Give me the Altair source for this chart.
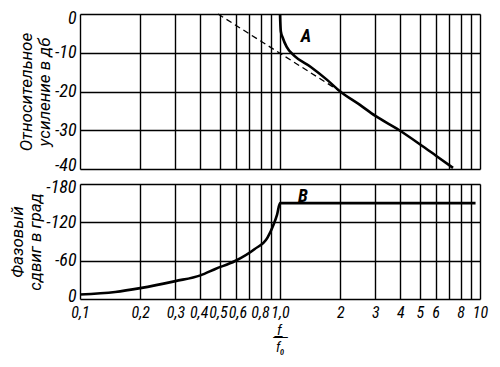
import altair as alt
import pandas as pd

# ---- data ----
gain_f = [1.0, 1.003, 1.01, 1.03, 1.08, 1.18, 1.42, 1.72, 2.0, 2.5, 3.0, 3.95, 5.0, 6.0, 7.33]
gain_db = [0, -2.0, -4.5, -6.0, -8.5, -10.8, -13.6, -17.0, -20.0, -23.4, -26.3, -30.0, -33.6, -36.5, -39.7]

asym_f = [0.49, 2.0]
asym_db = [0, -20]

phase_f = [0.1, 0.15, 0.2, 0.3, 0.4, 0.475, 0.596, 0.745, 0.866, 0.93, 0.967, 1.0, 9.5]
phase_deg = [-7, -11, -17, -28, -37, -47, -59.5, -78, -96, -117, -132, -150, -150]

curve_labels = ["A", "B"]
label_f = [1.35, 1.3]
label_val = [-6, -160]

x_ticks = [0.1, 0.2, 0.3, 0.4, 0.5, 0.6, 0.7, 0.8, 0.9, 1, 2, 3, 4, 5, 6, 7, 8, 9, 10]
x_tick_labels = ["0,1", "0,2", "0,3", "0,4", "0,5", "0,6", "", "0,8", "", "1,0",
                 "2", "3", "4", "5", "6", "", "8", "", "10"]

gain_ticks = [0, -10, -20, -30, -40]
gain_tick_labels = ["0", "-10", "-20", "-30", "-40"]
phase_ticks = [0, -60, -120, -180]
phase_tick_labels = ["0", "-60", "-120", "-180"]

# f / f0 written as a fraction: underlined "f" over "f0"
x_title = ["\u2009\u0332f\u0332\u2009\u0332", "f₀"]


def label_expr(vals, labs):
    expr = "''"
    for v, l in zip(reversed(vals), reversed(labs)):
        expr = f"(abs(datum.value - ({v})) < 1e-6 ? '{l}' : {expr})"
    return expr


FONT = "Roboto Condensed, Liberation Sans Narrow, Liberation Sans, sans-serif"
TITLE_FONT = "Roboto, Liberation Sans, sans-serif"

gain_df = pd.DataFrame({"f": gain_f, "v": gain_db})
asym_df = pd.DataFrame({"f": asym_f, "v": asym_db})
phase_df = pd.DataFrame({"f": phase_f, "v": phase_deg})
lab_a = pd.DataFrame({"f": label_f[:1], "v": label_val[:1], "t": curve_labels[:1]})
lab_b = pd.DataFrame({"f": label_f[1:], "v": label_val[1:], "t": curve_labels[1:]})

W = 400
xscale = alt.Scale(type="log", domain=[0.1, 10], nice=False)

grid_style = dict(grid=True, gridColor="black", gridWidth=1.4, gridOpacity=1,
                  domain=False, ticks=False)

# small sideways nudges so the crowded labels 0,4 / 0,5 / 0,6 do not collide
x_label_offset = {
    "condition": [
        {"test": "abs(datum.value - 0.4) < 1e-6", "value": -1.8},
        {"test": "abs(datum.value - 0.5) < 1e-6", "value": -1.8},
        {"test": "abs(datum.value - 0.6) < 1e-6", "value": 1.8},
        {"test": "abs(datum.value - 0.8) < 1e-6", "value": -0.6},
    ],
    "value": 0,
}

x_top = alt.X("f:Q", scale=xscale,
              axis=alt.Axis(values=x_ticks, labels=False, title=None, **grid_style))
x_bot = alt.X("f:Q", scale=xscale,
              axis=alt.Axis(values=x_ticks, labelExpr=label_expr(x_ticks, x_tick_labels),
                            labelOverlap=False, labelFlush=False, labelPadding=5,
                            labelOffset=x_label_offset,
                            labelFont=FONT, labelFontSize=16, labelFontStyle="italic",
                            labelColor="black",
                            title=x_title, titleX=W / 2, titleY=24,
                            titleBaseline="top", titleLineHeight=17,
                            titleFont=FONT, titleFontSize=14, titleFontStyle="italic",
                            titleFontWeight="normal", titleColor="black",
                            **grid_style))

y_common = dict(labelFont=FONT, labelFontSize=18, labelFontStyle="italic",
                labelColor="black", labelPadding=4,
                titleFont=TITLE_FONT, titleFontSize=17, titleFontStyle="italic",
                titleFontWeight="normal", titleColor="black", titlePadding=1,
                titleLineHeight=18)

y_top = alt.Y("v:Q", scale=alt.Scale(domain=[-40, 0], nice=False),
              axis=alt.Axis(values=gain_ticks, labelExpr=label_expr(gain_ticks, gain_tick_labels),
                            labelOffset={"condition": [
                                {"test": "datum.value == -40", "value": -3.5},
                                {"test": "datum.value == 0", "value": 4},
                            ], "value": 0},
                            title=["Относительное", "усиление в дб"],
                            **y_common, **grid_style))
y_bot = alt.Y("v:Q", scale=alt.Scale(domain=[0, -180], nice=False),
              axis=alt.Axis(values=phase_ticks, labelExpr=label_expr(phase_ticks, phase_tick_labels),
                            labelOffset={"condition": [
                                {"test": "datum.value == -180", "value": 3.5},
                                {"test": "datum.value == 0", "value": -3},
                            ], "value": 0},
                            title=["Фазовый", "сдвиг в град"],
                            **y_common, **grid_style))

top = alt.layer(
    alt.Chart(asym_df).mark_line(color="black", strokeWidth=1.3, strokeDash=[6, 4]).encode(x=x_top, y=y_top),
    alt.Chart(gain_df).mark_line(color="black", strokeWidth=2.6, interpolate="monotone").encode(x=x_top, y=y_top),
    alt.Chart(lab_a).mark_text(font=FONT, fontSize=18, fontStyle="italic", fontWeight="bold",
                               color="black").encode(x=x_top, y=y_top, text="t:N"),
).properties(width=W, height=155)

bottom = alt.layer(
    alt.Chart(phase_df).mark_line(color="black", strokeWidth=2.6, interpolate="monotone").encode(x=x_bot, y=y_bot),
    alt.Chart(lab_b).mark_text(font=FONT, fontSize=18, fontStyle="italic", fontWeight="bold",
                               color="black").encode(x=x_bot, y=y_bot, text="t:N"),
).properties(width=W, height=115)

chart = alt.vconcat(top, bottom, spacing=15, bounds="flush").properties(
    padding={"left": 0, "top": 0, "right": 0, "bottom": 0}
).configure_view(stroke="black", strokeWidth=2.2).configure(background="white")

chart.save("out.html", embed_options={"renderer": "svg", "actions": False})
